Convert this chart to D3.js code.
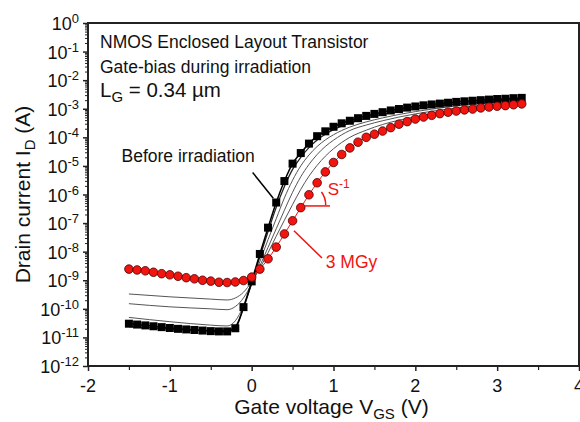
<!DOCTYPE html>
<html>
<head>
<meta charset="utf-8">
<script src="https://cdn.jsdelivr.net/npm/d3@7"></script>
<style>
  body { margin: 0; background: #fff; }
  text { font-family: "Liberation Sans", Arial, sans-serif; }
</style>
</head>
<body>
<div id="chart"></div>
<script>
// Gate voltage of the measured points (V)
const vgsPoints = [-1.5, -1.4, -1.3, -1.2, -1.1, -1.0, -0.9, -0.8, -0.7, -0.6,
  -0.5, -0.4, -0.3, -0.2, -0.1, 0.0, 0.1, 0.2, 0.3, 0.4, 0.5, 0.6, 0.7, 0.8, 0.9,
  1.0, 1.1, 1.2, 1.3, 1.4, 1.5, 1.6, 1.7, 1.8, 1.9, 2.0, 2.1, 2.2, 2.3, 2.4, 2.5,
  2.6, 2.7, 2.8, 2.9, 3.0, 3.1, 3.2, 3.3];

// log10 of drain current (A), before irradiation (black squares)
const beforeLogId = [-10.52, -10.55, -10.58, -10.61, -10.64, -10.67, -10.70, -10.72, -10.74, -10.76,
  -10.78, -10.79, -10.79, -10.68, -9.94, -9.04, -8.08, -7.16, -6.28, -5.53, -4.92, -4.55, -4.22, -3.96, -3.79,
  -3.63, -3.51, -3.42, -3.33, -3.25, -3.18, -3.12, -3.06, -3.01, -2.96, -2.92, -2.88, -2.85, -2.82, -2.79, -2.76,
  -2.74, -2.72, -2.70, -2.68, -2.66, -2.65, -2.63, -2.62];

// log10 of drain current (A), after 3 MGy (red circles)
const mgy3LogId = [-8.61, -8.64, -8.67, -8.72, -8.77, -8.81, -8.86, -8.91, -8.95, -9.00,
  -9.03, -9.07, -9.08, -9.06, -9.01, -8.89, -8.61, -8.25, -7.84, -7.38, -6.92, -6.46, -6.01, -5.59, -5.21,
  -4.88, -4.60, -4.37, -4.17, -4.00, -3.89, -3.78, -3.66, -3.54, -3.45, -3.36, -3.29, -3.23, -3.17, -3.12, -3.08,
  -3.04, -3.01, -2.97, -2.94, -2.91, -2.89, -2.86, -2.83];

// intermediate doses (thin lines)
const vgsLines = [-1.5, -1.0, -0.5, -0.3, -0.2, -0.1, 0.0, 0.1, 0.2, 0.3, 0.4, 0.5, 0.6,
  0.7, 0.8, 0.9, 1.0, 1.2, 1.4, 1.6, 1.8, 2.0, 2.4, 2.8, 3.3];
const dose1LogId = [-10.62, -10.70, -10.76, -10.76, -10.62, -9.98, -9.10, -8.18, -7.30, -6.45, -5.72, -5.12, -4.70,
  -4.36, -4.09, -3.89, -3.73, -3.50, -3.33, -3.20, -3.09, -3.00, -2.86, -2.76, -2.66];
const dose2LogId = [-10.30, -10.45, -10.57, -10.60, -10.42, -9.90, -9.15, -8.35, -7.58, -6.85, -6.12, -5.50, -5.00,
  -4.62, -4.32, -4.09, -3.91, -3.64, -3.46, -3.32, -3.20, -3.10, -2.94, -2.82, -2.70];
const dose3LogId = [-9.82, -9.93, -10.00, -10.03, -9.92, -9.62, -9.12, -8.50, -7.85, -7.20, -6.55, -5.92, -5.38,
  -4.95, -4.60, -4.32, -4.10, -3.76, -3.57, -3.42, -3.29, -3.18, -3.01, -2.88, -2.75];
const dose4LogId = [-9.48, -9.58, -9.66, -9.69, -9.62, -9.42, -9.05, -8.58, -8.04, -7.46, -6.90, -6.35, -5.82,
  -5.36, -4.98, -4.66, -4.40, -4.00, -3.75, -3.55, -3.40, -3.28, -3.08, -2.93, -2.79];

const xTicks = [-2, -1, 0, 1, 2, 3, 4];
const xTickLabels = ["-2", "-1", "0", "1", "2", "3", "4"];
const xMinorTicks = [-1.5, -0.5, 0.5, 1.5, 2.5, 3.5];
const yExponents = [0, -1, -2, -3, -4, -5, -6, -7, -8, -9, -10, -11, -12];

const W = 580, H = 422;
const margin = {top: 23, right: 1, bottom: 56, left: 88};

const svg = d3.select("#chart").append("svg")
  .attr("width", W).attr("height", H);

const x = d3.scaleLinear().domain([-2, 4]).range([margin.left, W - margin.right]);
const y = d3.scaleLog().domain([1e-12, 1]).range([H - margin.bottom, margin.top]);

const red = "#f2140f";

// minor log ticks
const yMinor = [];
yExponents.slice(0, -1).forEach(e => {
  for (let k = 2; k <= 9; k++) yMinor.push(k * Math.pow(10, e - 1));
});

const left = svg.append("g")
  .attr("transform", `translate(${margin.left},0)`);
left.append("g")
  .call(d3.axisLeft(y).tickValues(yMinor).tickSize(3).tickFormat(""))
  .call(g => g.select(".domain").remove())
  .selectAll("line").attr("stroke", "#222").attr("stroke-width", 1);
left.append("g")
  .call(d3.axisLeft(y).tickValues(yExponents.map(e => Math.pow(10, e))).tickSize(5).tickFormat(""))
  .call(g => g.select(".domain").remove())
  .selectAll("line").attr("stroke", "#222").attr("stroke-width", 1.5);

// y tick labels 10^n
yExponents.forEach(e => {
  const t = svg.append("text")
    .attr("x", margin.left - 9)
    .attr("y", y(Math.pow(10, e)) + 7)
    .attr("text-anchor", "end")
    .attr("font-size", 18)
    .attr("fill", "#111");
  t.append("tspan").text("10");
  t.append("tspan").attr("dy", -7).attr("font-size", 13).text(String(e));
});

const bottom = svg.append("g")
  .attr("transform", `translate(0,${H - margin.bottom})`);
bottom.append("g")
  .call(d3.axisBottom(x).tickValues(xMinorTicks).tickSize(4).tickFormat(""))
  .call(g => g.select(".domain").remove())
  .selectAll("line").attr("stroke", "#222").attr("stroke-width", 1.2);
bottom.append("g")
  .call(d3.axisBottom(x).tickValues(xTicks).tickSize(5).tickFormat(""))
  .call(g => g.select(".domain").remove())
  .selectAll("line").attr("stroke", "#222").attr("stroke-width", 1.5);

svg.selectAll(".xlab")
  .data(xTicks)
  .enter().append("text")
  .attr("x", d => x(d))
  .attr("y", H - margin.bottom + 26)
  .attr("text-anchor", "middle")
  .attr("font-size", 18)
  .attr("fill", "#111")
  .text((d, i) => xTickLabels[i]);

// plot frame
svg.append("rect")
  .attr("x", margin.left).attr("y", margin.top)
  .attr("width", W - margin.right - margin.left)
  .attr("height", H - margin.bottom - margin.top)
  .attr("fill", "none").attr("stroke", "#222").attr("stroke-width", 2);

// axis titles
const xt = svg.append("text")
  .attr("x", (margin.left + W - margin.right) / 2 - 2)
  .attr("y", H - 8)
  .attr("text-anchor", "middle")
  .attr("font-size", 21).attr("fill", "#111");
xt.append("tspan").text("Gate voltage V");
xt.append("tspan").attr("dy", 5).attr("font-size", 15).text("GS");
xt.append("tspan").attr("dy", -5).text(" (V)");

const yt = svg.append("text")
  .attr("transform", `translate(30,${(margin.top + H - margin.bottom) / 2}) rotate(-90)`)
  .attr("text-anchor", "middle")
  .attr("font-size", 21).attr("fill", "#111");
yt.append("tspan").text("Drain current I");
yt.append("tspan").attr("dy", 5).attr("font-size", 15).text("D");
yt.append("tspan").attr("dy", -5).text(" (A)");

// curves
const line = d3.line()
  .x(d => x(d[0]))
  .y(d => y(Math.pow(10, d[1])))
  .curve(d3.curveMonotoneX);

const plot = svg.append("g");

const doses = [dose4LogId, dose3LogId, dose2LogId];
doses.forEach(vals => {
  plot.append("path")
    .datum(vgsLines.map((v, i) => [v, vals[i]]))
    .attr("fill", "none")
    .attr("stroke", "#555")
    .attr("stroke-width", 1)
    .attr("d", line);
});
plot.append("path")
  .datum(vgsLines.map((v, i) => [v, dose1LogId[i]]))
  .attr("fill", "none")
  .attr("stroke", "#222")
  .attr("stroke-width", 1.3)
  .attr("d", line);

// before irradiation
const before = vgsPoints.map((v, i) => [v, beforeLogId[i]]);
plot.append("path")
  .datum(before)
  .attr("fill", "none")
  .attr("stroke", "#000")
  .attr("stroke-width", 1.5)
  .attr("d", line);
plot.selectAll(".sq")
  .data(before)
  .enter().append("rect")
  .attr("x", d => x(d[0]) - 4)
  .attr("y", d => y(Math.pow(10, d[1])) - 4)
  .attr("width", 8).attr("height", 8)
  .attr("fill", "#000");

// 3 MGy
const after = vgsPoints.map((v, i) => [v, mgy3LogId[i]]);
plot.append("path")
  .datum(after)
  .attr("fill", "none")
  .attr("stroke", red)
  .attr("stroke-width", 1)
  .attr("d", line);
plot.selectAll(".ci")
  .data(after)
  .enter().append("circle")
  .attr("cx", d => x(d[0]))
  .attr("cy", d => y(Math.pow(10, d[1])))
  .attr("r", 4.3)
  .attr("fill", red)
  .attr("stroke", "#4a0000")
  .attr("stroke-width", 0.8);

// annotations
const P = (vx, e) => [x(vx), y(Math.pow(10, e))];

const tl = svg.append("g").attr("fill", "#111");
tl.append("text").attr("x", 100).attr("y", 48).attr("font-size", 17.5)
  .text("NMOS Enclosed Layout Transistor");
tl.append("text").attr("x", 100).attr("y", 73).attr("font-size", 17.5)
  .text("Gate-bias during irradiation");
const lg = tl.append("text").attr("x", 100).attr("y", 97).attr("font-size", 20.5);
lg.append("tspan").text("L");
lg.append("tspan").attr("dy", 5).attr("font-size", 15).text("G");
lg.append("tspan").attr("dy", -5).text(" = 0.34 µm");

let a = P(-1.59, -4.88);
svg.append("text").attr("x", a[0]).attr("y", a[1])
  .attr("font-size", 17.5).attr("fill", "#111").text("Before irradiation");
let p1 = P(0.012, -5.23), p2 = P(0.264, -6.13);
svg.append("line")
  .attr("x1", p1[0]).attr("y1", p1[1]).attr("x2", p2[0]).attr("y2", p2[1])
  .attr("stroke", "#000").attr("stroke-width", 1.5);

// S^-1 slope mark
a = P(0.93, -6.0);
const st = svg.append("text").attr("x", a[0]).attr("y", a[1])
  .attr("font-size", 17).attr("fill", red);
st.append("tspan").text("S");
st.append("tspan").attr("dy", -7).attr("font-size", 12).text("-1");
p1 = P(0.65, -6.40); p2 = P(0.957, -6.40);
svg.append("line")
  .attr("x1", p1[0]).attr("y1", p1[1]).attr("x2", p2[0]).attr("y2", p2[1])
  .attr("stroke", red).attr("stroke-width", 1.5);
p1 = P(0.853, -5.91); p2 = P(0.905, -6.38);
const pc = P(0.905, -6.1);
svg.append("path")
  .attr("d", `M${p1[0]},${p1[1]} Q${pc[0]},${pc[1]} ${p2[0]},${p2[1]}`)
  .attr("fill", "none").attr("stroke", red).attr("stroke-width", 1.5);

// 3 MGy label
p1 = P(0.517, -7.27); p2 = P(0.859, -8.22);
svg.append("line")
  .attr("x1", p1[0]).attr("y1", p1[1]).attr("x2", p2[0]).attr("y2", p2[1])
  .attr("stroke", red).attr("stroke-width", 1.5);
a = P(0.905, -8.58);
svg.append("text").attr("x", a[0]).attr("y", a[1])
  .attr("font-size", 17.5).attr("fill", red).text("3 MGy");
</script>
</body>
</html>
